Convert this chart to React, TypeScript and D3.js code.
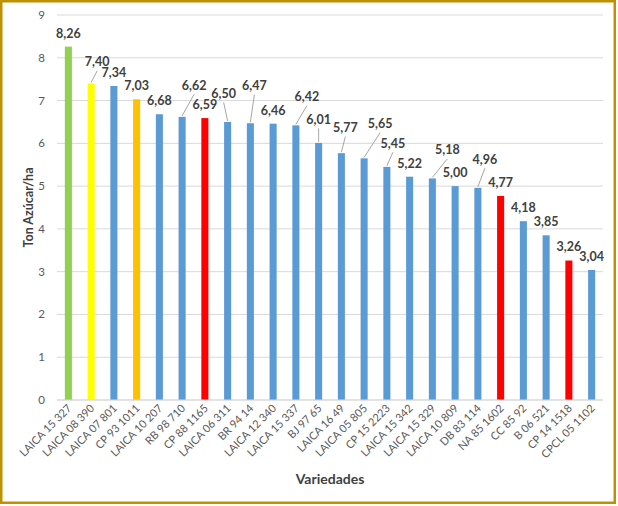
import React from "react";
import * as d3 from "d3";

const categories = [
  "LAICA 15 327", "LAICA 08 390", "LAICA 07 801", "CP 93 1011", "LAICA 10 207",
  "RB 98 710", "CP 88 1165", "LAICA 06 311", "BR 94 14", "LAICA 12 340",
  "LAICA 15 337", "BJ 97 65", "LAICA 16 49", "LAICA 05 805", "CP 15 2223",
  "LAICA 15 342", "LAICA 15 329", "LAICA 10 809", "DB 83 114", "NA 85 1602",
  "CC 85 92", "B 06 521", "CP 14 1518", "CPCL 05 1102",
];
const values = [
  8.26, 7.40, 7.34, 7.03, 6.68, 6.62, 6.59, 6.50, 6.47, 6.46, 6.42, 6.01,
  5.77, 5.65, 5.45, 5.22, 5.18, 5.00, 4.96, 4.77, 4.18, 3.85, 3.26, 3.04,
];
const colorGroups = [
  "green", "yellow", "blue", "orange", "blue", "blue", "red", "blue", "blue",
  "blue", "blue", "blue", "blue", "blue", "blue", "blue", "blue", "blue",
  "blue", "red", "blue", "blue", "red", "blue",
];
const yTicks = [0, 1, 2, 3, 4, 5, 6, 7, 8, 9];

// label displacement (px) for data labels moved off their default spot
const labelShiftX = [0, 6, 0, 0, 0, 12, 0, -4, 4, 0, 11, 0, 4, 16, 6, 0, 15, 0, 7, 0, 0, 0, 0, 0];
const labelShiftY = [0, -8, 0, 0, 0, -18, 0, -15, -24, 0, -15, -10, -12, -21, -10, 0, -15, 0, -15, 0, 0, 0, 0, 0];

const palette: Record<string, string> = {
  green: "#92D050",
  yellow: "#FFFF00",
  blue: "#5B9BD5",
  orange: "#FFC000",
  red: "#FF0000",
};

const W = 618;
const H = 506;
const left = 57;
const right = 603;
const top = 15;
const bottom = 400;
const FONT = "Lato, 'Open Sans', sans-serif";

export default function App() {
  const x = d3.scaleBand<string>().domain(categories).range([left, right]).paddingInner(0.69).paddingOuter(0.345);
  const y = d3.scaleLinear().domain([0, 9]).range([bottom, top]);
  const bw = x.bandwidth();

  return (
    <svg width={W} height={H} style={{ position: "absolute", left: 0, top: 0, background: "#fff" }}>
      <rect x={1.25} y={1.25} width={W - 4.5} height={H - 4.5} fill="#fff" stroke="#BF9000" strokeWidth={2.5} />
      {yTicks.map((t) => (
        <g key={t}>
          <line x1={left} x2={right} y1={y(t)} y2={y(t)} stroke="#D9D9D9" strokeWidth={1} />
          <text x={45} y={y(t) + 4} textAnchor="end" fontFamily={FONT} fontSize={11.5} fill="#595959">
            {t}
          </text>
        </g>
      ))}
      {categories.map((c, i) => {
        const bx = (x(c) ?? 0) + bw / 2;
        const v = values[i];
        const yt = y(v);
        const dx = labelShiftX[i];
        const dy = labelShiftY[i];
        const lx = bx + dx;
        const lc = yt - 13.6 + dy;
        const moved = dx !== 0 || dy !== 0;
        return (
          <g key={c}>
            <rect x={x(c)} y={yt} width={bw} height={bottom - yt} fill={palette[colorGroups[i]]} />
            {moved && (
              <line x1={bx} y1={yt - 1} x2={lx} y2={lc + 9} stroke="#A6A6A6" strokeWidth={1} />
            )}
            <text x={lx} y={lc + 4.5} textAnchor="middle" fontFamily={FONT} fontSize={12.5} fontWeight="bold" fill="#404040">
              {v.toFixed(2).replace(".", ",")}
            </text>
            <text
              transform={`translate(${bx + 4},${bottom + 9}) rotate(-45)`}
              textAnchor="end"
              fontFamily={FONT}
              fontSize={11}
              fill="#595959"
            >
              {c}
            </text>
          </g>
        );
      })}
      <line x1={left} x2={right} y1={bottom} y2={bottom} stroke="#D9D9D9" strokeWidth={1} />
      <text
        transform={`translate(33,${(top + bottom) / 2}) rotate(-90)`}
        textAnchor="middle"
        fontFamily={FONT}
        fontSize={12.5}
        fontWeight="bold"
        fill="#404040"
      >
        Ton Azúcar/ha
      </text>
      <text x={330} y={484} textAnchor="middle" fontFamily={FONT} fontSize={14} fontWeight="bold" fill="#404040">
        Variedades
      </text>
    </svg>
  );
}
